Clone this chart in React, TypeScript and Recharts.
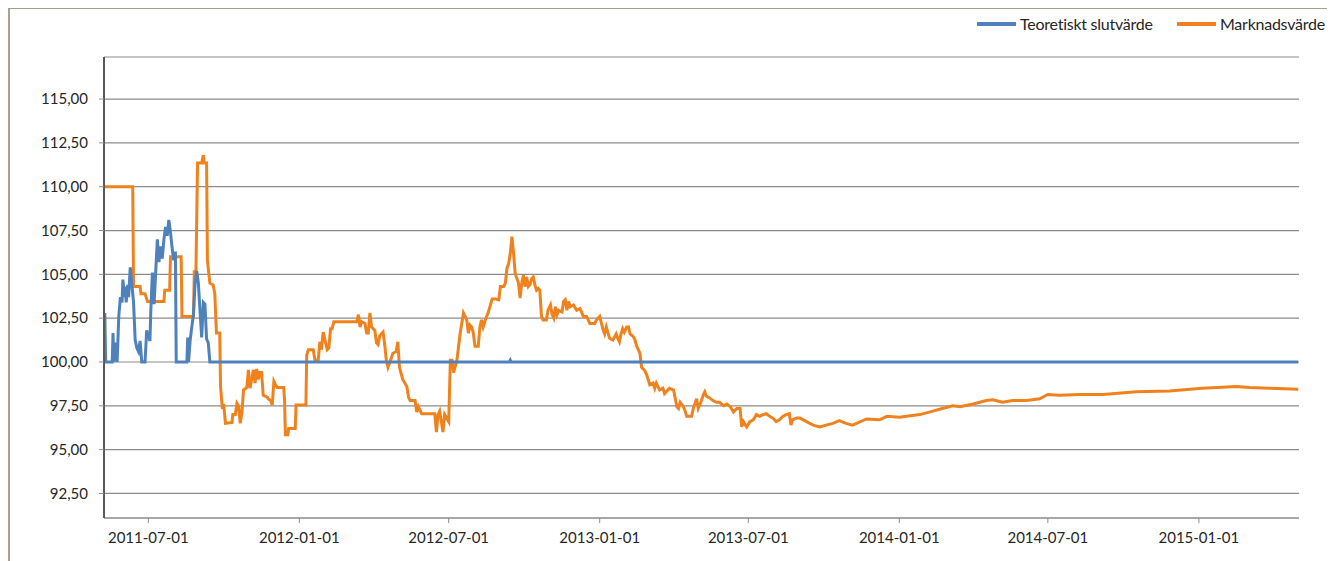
import { LineChart, Line, XAxis, YAxis, CartesianGrid } from "recharts";

const BLUE = "#4f81bd";
const ORANGE = "#f0821e";

// x-axis range and ticks
const START = "2011-05-08";
const END = "2015-05-03";
const X_TICKS = ["2011-07-01", "2012-01-01", "2012-07-01", "2013-01-01", "2013-07-01", "2014-01-01", "2014-07-01", "2015-01-01"];
const Y_TICKS = [92.5, 95, 97.5, 100, 102.5, 105, 107.5, 110, 112.5, 115];

const teoretisktSlutvarde: [string, number][] = [
    ["2011-05-09", 102.8], ["2011-05-10", 100.0], ["2011-05-18", 100.0], ["2011-05-19", 101.65],
    ["2011-05-20", 100.0], ["2011-05-22", 101.1], ["2011-05-24", 100.0], ["2011-05-26", 102.6],
    ["2011-05-28", 103.7], ["2011-05-30", 103.4], ["2011-05-31", 104.7], ["2011-06-02", 103.7],
    ["2011-06-03", 104.3], ["2011-06-04", 103.4], ["2011-06-06", 104.4], ["2011-06-07", 103.7],
    ["2011-06-09", 105.4], ["2011-06-11", 104.4], ["2011-06-13", 103.4], ["2011-06-15", 101.25],
    ["2011-06-17", 100.8], ["2011-06-19", 100.6], ["2011-06-21", 101.2], ["2011-06-23", 100.0],
    ["2011-06-27", 100.0], ["2011-06-29", 101.8], ["2011-07-03", 101.2], ["2011-07-04", 102.9],
    ["2011-07-06", 105.1], ["2011-07-08", 103.3], ["2011-07-12", 107.0], ["2011-07-14", 105.7],
    ["2011-07-16", 106.6], ["2011-07-18", 105.9], ["2011-07-20", 107.0], ["2011-07-22", 107.7],
    ["2011-07-24", 107.2], ["2011-07-26", 108.1], ["2011-07-28", 107.4], ["2011-07-30", 106.5],
    ["2011-08-01", 105.8], ["2011-08-03", 106.3], ["2011-08-04", 100.0], ["2011-08-17", 100.0],
    ["2011-08-18", 101.4], ["2011-08-19", 100.0], ["2011-08-21", 101.25], ["2011-08-23", 102.0],
    ["2011-08-25", 102.7], ["2011-08-27", 104.5], ["2011-08-29", 105.2], ["2011-08-31", 104.5],
    ["2011-09-02", 102.9], ["2011-09-04", 101.4], ["2011-09-06", 103.4], ["2011-09-08", 103.3],
    ["2011-09-10", 101.3], ["2011-09-12", 101.1], ["2011-09-14", 100.0], ["2012-09-13", 100.0],
    ["2012-09-14", 100.1], ["2012-09-15", 100.0], ["2015-05-02", 100.0],
];

const marknadsvarde: [string, number][] = [
    ["2011-05-09", 110.0], ["2011-06-12", 110.0], ["2011-06-13", 104.3], ["2011-06-21", 104.3],
    ["2011-06-22", 103.9], ["2011-06-27", 103.9], ["2011-06-30", 103.45], ["2011-07-20", 103.45],
    ["2011-07-21", 104.1], ["2011-07-27", 104.1], ["2011-07-28", 106.0], ["2011-08-10", 106.0],
    ["2011-08-11", 102.6], ["2011-08-25", 102.6], ["2011-08-26", 105.15], ["2011-08-28", 105.15],
    ["2011-08-30", 111.35], ["2011-09-04", 111.35], ["2011-09-06", 111.8], ["2011-09-07", 111.35],
    ["2011-09-10", 111.35], ["2011-09-11", 105.8], ["2011-09-14", 104.5], ["2011-09-18", 104.4],
    ["2011-09-20", 103.9], ["2011-09-22", 101.65], ["2011-09-26", 101.65], ["2011-09-27", 98.6],
    ["2011-09-29", 97.45], ["2011-10-01", 97.5], ["2011-10-03", 96.5], ["2011-10-11", 96.55],
    ["2011-10-12", 97.0], ["2011-10-15", 97.0], ["2011-10-17", 97.65], ["2011-10-19", 97.5],
    ["2011-10-21", 96.5], ["2011-10-23", 97.1], ["2011-10-25", 98.4], ["2011-10-29", 98.55],
    ["2011-10-31", 99.55], ["2011-11-02", 98.5], ["2011-11-06", 99.55], ["2011-11-08", 98.8],
    ["2011-11-10", 99.6], ["2011-11-12", 99.0], ["2011-11-14", 99.4], ["2011-11-16", 99.4],
    ["2011-11-18", 98.1], ["2011-11-23", 98.0], ["2011-11-24", 97.9], ["2011-11-27", 97.8],
    ["2011-11-29", 97.55], ["2011-12-01", 98.9], ["2011-12-03", 98.7], ["2011-12-05", 98.55],
    ["2011-12-13", 98.55], ["2011-12-14", 97.8], ["2011-12-15", 95.85], ["2011-12-18", 95.85],
    ["2011-12-19", 96.2], ["2011-12-27", 96.2], ["2011-12-28", 97.55], ["2012-01-09", 97.55],
    ["2012-01-10", 100.4], ["2012-01-12", 100.7], ["2012-01-18", 100.7], ["2012-01-20", 100.1],
    ["2012-01-24", 100.1], ["2012-01-26", 101.15], ["2012-01-28", 100.7], ["2012-01-30", 101.7],
    ["2012-02-04", 100.7], ["2012-02-06", 100.8], ["2012-02-08", 101.9], ["2012-02-10", 101.9],
    ["2012-02-12", 102.3], ["2012-03-11", 102.3], ["2012-03-13", 102.7], ["2012-03-15", 102.0],
    ["2012-03-17", 102.3], ["2012-03-21", 102.2], ["2012-03-23", 101.65], ["2012-03-25", 101.65],
    ["2012-03-27", 102.8], ["2012-03-29", 102.0], ["2012-04-02", 101.8], ["2012-04-04", 101.1],
    ["2012-04-06", 101.0], ["2012-04-08", 101.5], ["2012-04-12", 101.7], ["2012-04-14", 101.0],
    ["2012-04-16", 100.1], ["2012-04-18", 99.7], ["2012-04-20", 99.95], ["2012-04-24", 100.5],
    ["2012-04-28", 100.6], ["2012-04-30", 101.15], ["2012-05-02", 99.7], ["2012-05-06", 99.0],
    ["2012-05-11", 98.6], ["2012-05-13", 98.0], ["2012-05-15", 97.8], ["2012-05-21", 97.8],
    ["2012-05-23", 97.15], ["2012-05-25", 97.45], ["2012-05-29", 97.05], ["2012-06-14", 97.05],
    ["2012-06-16", 96.0], ["2012-06-18", 97.0], ["2012-06-20", 97.2], ["2012-06-24", 96.0],
    ["2012-06-26", 97.0], ["2012-07-01", 96.6], ["2012-07-03", 100.1], ["2012-07-05", 100.1],
    ["2012-07-07", 99.4], ["2012-07-11", 100.1], ["2012-07-15", 101.65], ["2012-07-19", 102.8],
    ["2012-07-23", 102.4], ["2012-07-25", 101.65], ["2012-07-27", 102.1], ["2012-07-29", 102.0],
    ["2012-07-31", 101.65], ["2012-08-02", 100.9], ["2012-08-06", 100.9], ["2012-08-08", 102.0],
    ["2012-08-10", 102.4], ["2012-08-12", 102.0], ["2012-08-14", 102.3], ["2012-08-16", 102.6],
    ["2012-08-18", 102.8], ["2012-08-23", 103.6], ["2012-08-27", 103.6], ["2012-08-31", 103.55],
    ["2012-09-02", 104.3], ["2012-09-06", 104.3], ["2012-09-08", 104.5], ["2012-09-10", 105.35],
    ["2012-09-12", 105.6], ["2012-09-14", 106.2], ["2012-09-16", 107.15], ["2012-09-18", 106.2],
    ["2012-09-20", 105.05], ["2012-09-24", 104.5], ["2012-09-26", 103.65], ["2012-09-28", 104.5],
    ["2012-09-30", 104.95], ["2012-10-02", 104.3], ["2012-10-04", 104.85], ["2012-10-06", 104.3],
    ["2012-10-08", 104.4], ["2012-10-10", 104.75], ["2012-10-12", 104.85], ["2012-10-14", 104.4],
    ["2012-10-16", 104.1], ["2012-10-18", 104.2], ["2012-10-20", 104.1], ["2012-10-22", 102.6],
    ["2012-10-24", 102.4], ["2012-10-28", 102.4], ["2012-10-30", 102.95], ["2012-11-02", 103.25],
    ["2012-11-04", 102.7], ["2012-11-06", 102.5], ["2012-11-08", 103.15], ["2012-11-10", 102.7],
    ["2012-11-12", 102.95], ["2012-11-16", 102.85], ["2012-11-18", 103.45], ["2012-11-20", 103.55],
    ["2012-11-22", 102.95], ["2012-11-24", 103.45], ["2012-11-26", 103.15], ["2012-11-30", 103.25],
    ["2012-12-04", 102.95], ["2012-12-08", 103.05], ["2012-12-12", 102.6], ["2012-12-16", 102.6],
    ["2012-12-20", 102.2], ["2012-12-26", 102.2], ["2012-12-28", 102.4], ["2013-01-01", 102.6],
    ["2013-01-05", 101.85], ["2013-01-07", 101.6], ["2013-01-09", 102.0], ["2013-01-13", 101.35],
    ["2013-01-17", 101.25], ["2013-01-21", 101.6], ["2013-01-23", 101.35], ["2013-01-25", 101.15],
    ["2013-01-27", 101.6], ["2013-01-29", 101.9], ["2013-01-31", 101.7], ["2013-02-03", 102.0],
    ["2013-02-05", 102.0], ["2013-02-07", 101.6], ["2013-02-11", 101.45], ["2013-02-13", 101.25],
    ["2013-02-15", 100.9], ["2013-02-19", 100.5], ["2013-02-21", 99.7], ["2013-02-25", 99.5],
    ["2013-02-27", 99.3], ["2013-03-03", 98.7], ["2013-03-07", 98.8], ["2013-03-09", 98.5],
    ["2013-03-11", 98.8], ["2013-03-15", 98.4], ["2013-03-19", 98.5], ["2013-03-21", 98.2],
    ["2013-03-27", 98.5], ["2013-04-01", 98.4], ["2013-04-05", 97.45], ["2013-04-07", 97.35],
    ["2013-04-09", 97.7], ["2013-04-13", 97.45], ["2013-04-15", 97.2], ["2013-04-17", 96.9],
    ["2013-04-23", 96.9], ["2013-04-25", 97.35], ["2013-04-29", 97.9], ["2013-05-01", 97.35],
    ["2013-05-05", 97.8], ["2013-05-07", 98.1], ["2013-05-09", 98.3], ["2013-05-11", 98.05],
    ["2013-05-15", 97.95], ["2013-05-19", 97.8], ["2013-05-23", 97.7], ["2013-05-27", 97.7],
    ["2013-06-01", 97.5], ["2013-06-05", 97.6], ["2013-06-09", 97.45], ["2013-06-13", 97.15],
    ["2013-06-17", 97.35], ["2013-06-21", 97.35], ["2013-06-23", 96.3], ["2013-06-25", 96.6],
    ["2013-06-29", 96.3], ["2013-07-03", 96.6], ["2013-07-07", 96.7], ["2013-07-11", 97.0],
    ["2013-07-15", 96.9], ["2013-07-19", 97.0], ["2013-07-23", 97.05], ["2013-07-27", 96.9],
    ["2013-07-31", 96.8], ["2013-08-04", 96.6], ["2013-08-08", 96.7], ["2013-08-12", 96.9],
    ["2013-08-16", 97.0], ["2013-08-20", 97.05], ["2013-08-22", 96.4], ["2013-08-24", 96.7],
    ["2013-08-29", 96.8], ["2013-09-02", 96.8], ["2013-09-10", 96.6], ["2013-09-18", 96.4],
    ["2013-09-26", 96.3], ["2013-10-04", 96.4], ["2013-10-12", 96.5], ["2013-10-20", 96.65],
    ["2013-10-28", 96.5], ["2013-11-05", 96.4], ["2013-11-22", 96.75], ["2013-12-08", 96.7],
    ["2013-12-17", 96.9], ["2014-01-01", 96.85], ["2014-01-26", 97.0], ["2014-02-11", 97.2],
    ["2014-02-19", 97.3], ["2014-03-07", 97.5], ["2014-03-16", 97.45], ["2014-04-01", 97.6],
    ["2014-04-17", 97.8], ["2014-04-25", 97.85], ["2014-05-07", 97.7], ["2014-05-19", 97.8],
    ["2014-06-05", 97.8], ["2014-06-21", 97.9], ["2014-07-01", 98.15], ["2014-07-15", 98.1],
    ["2014-08-09", 98.15], ["2014-09-06", 98.15], ["2014-10-17", 98.3], ["2014-11-26", 98.35],
    ["2015-01-05", 98.5], ["2015-02-16", 98.6], ["2015-03-04", 98.55], ["2015-03-28", 98.5],
    ["2015-05-02", 98.45],
];

const toPoints = (rows: [string, number][]) => rows.map(([d, v]) => ({ t: Date.parse(d), v }));

const fmtDate = (t: number) => new Date(t).toISOString().slice(0, 10);
const fmtValue = (v: number) => v.toFixed(2).replace(".", ",");

const tickStyle = { fontSize: 15, fontFamily: "Lato", fill: "#262626" };

const legendItems = [
    { name: "Teoretiskt slutvärde", color: BLUE, textWidth: 150 },
    { name: "Marknadsvärde", color: ORANGE, textWidth: 112 },
];

const App = () => {
    const blue = toPoints(teoretisktSlutvarde);
    const orange = toPoints(marknadsvarde);

    return (
        <div
            style={{
                position: "relative",
                marginTop: -1,
                width: 1325,
                height: 552,
                borderLeft: "2px solid #a6a08c",
                borderTop: "2px solid #a6a08c",
                overflow: "hidden",
            }}
        >
            <div
                style={{
                    position: "absolute",
                    top: 5,
                    left: 967,
                    display: "flex",
                    alignItems: "center",
                    fontFamily: "Lato",
                    fontSize: 16,
                    letterSpacing: -0.25,
                    color: "#262626",
                    whiteSpace: "nowrap",
                }}
            >
                {legendItems.map((item, i) => (
                    <div key={item.name} style={{ display: "flex", alignItems: "center", marginLeft: i === 0 ? 0 : 7 }}>
                        <span style={{ display: "inline-block", width: 39, height: 4, background: item.color, marginRight: 4 }} />
                        <span style={{ display: "inline-block", width: item.textWidth }}>{item.name}</span>
                    </div>
                ))}
            </div>
            <LineChart width={1325} height={552} margin={{ top: 48, right: 36, bottom: 0, left: 0 }}>
                <CartesianGrid horizontal vertical={false} stroke="#8c8c8c" strokeWidth={1.2} />
                <XAxis
                    type="number"
                    dataKey="t"
                    domain={[Date.parse(START), Date.parse(END)]}
                    ticks={X_TICKS.map((d) => Date.parse(d))}
                    tickFormatter={fmtDate}
                    allowDataOverflow
                    height={43}
                    tickSize={5}
                    tickMargin={9}
                    tick={tickStyle}
                    axisLine={{ stroke: "#8c8c8c", strokeWidth: 1.2 }}
                    tickLine={{ stroke: "#8c8c8c" }}
                />
                <YAxis
                    type="number"
                    domain={[91.1, 117.4]}
                    ticks={Y_TICKS}
                    tickFormatter={fmtValue}
                    allowDataOverflow
                    width={94}
                    tickSize={5}
                    tickMargin={11}
                    tick={tickStyle}
                    axisLine={{ stroke: "#595959", strokeWidth: 2 }}
                    tickLine={{ stroke: "#8c8c8c" }}
                />
                <Line
                    data={orange}
                    dataKey="v"
                    name="Marknadsvärde"
                    type="linear"
                    stroke={ORANGE}
                    strokeWidth={3}
                    dot={false}
                    isAnimationActive={false}
                />
                <Line
                    data={blue}
                    dataKey="v"
                    name="Teoretiskt slutvärde"
                    type="linear"
                    stroke={BLUE}
                    strokeWidth={3}
                    dot={false}
                    isAnimationActive={false}
                />
            </LineChart>
        </div>
    );
};

export default App;
